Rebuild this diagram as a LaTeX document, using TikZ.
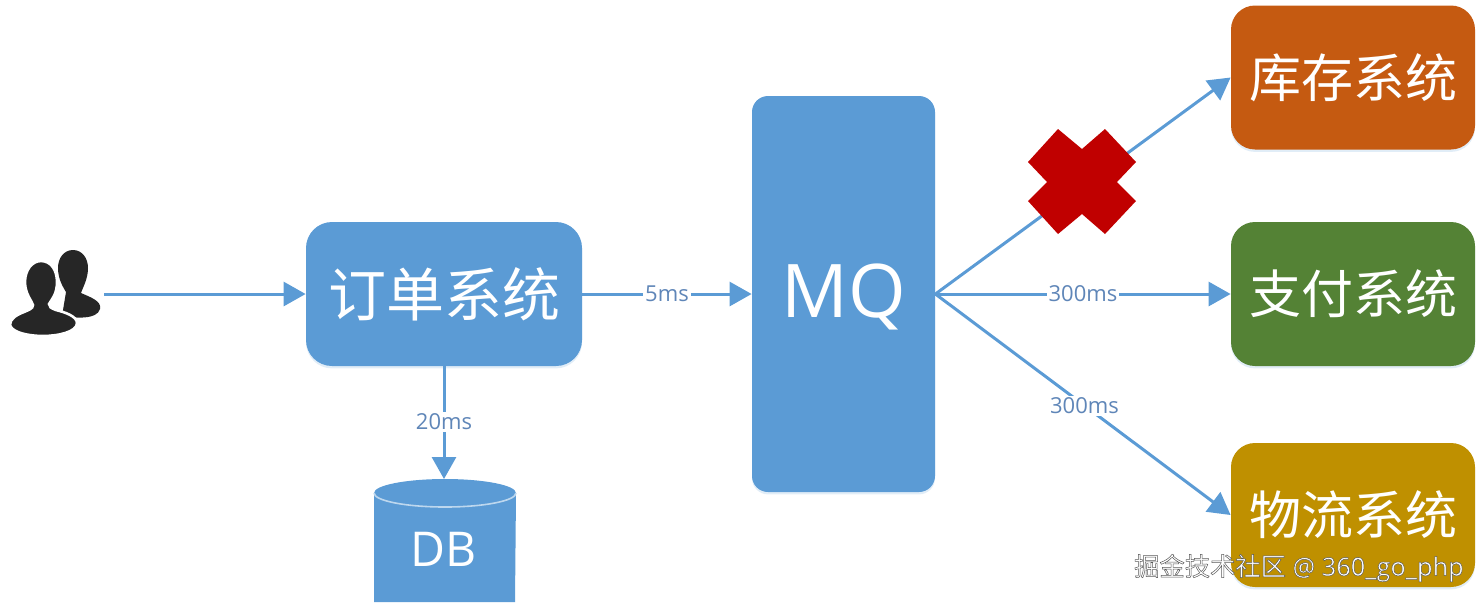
\documentclass[tikz,border=0pt]{standalone}
\usepackage{fontspec}
\setmainfont{Open Sans}
\newfontfamily\cjk{Noto Sans CJK SC}
\usetikzlibrary{arrows.meta,shadows}
\definecolor{bl}{HTML}{5B9BD5}
\definecolor{orng}{HTML}{C55A11}
\definecolor{grn}{HTML}{548235}
\definecolor{gld}{HTML}{BF9000}
\definecolor{lbl}{HTML}{5F86B8}
\definecolor{icon}{HTML}{262626}
\definecolor{xred}{HTML}{C00000}
\tikzset{
  sysbox/.style={rectangle,rounded corners=12pt,inner sep=0pt,text=white,
    minimum width=122pt,minimum height=72pt,
    drop shadow={shadow xshift=0pt,shadow yshift=-1.2pt,opacity=0.18,fill=bl},
    font=\cjk\fontsize{26}{30}\selectfont},
  conn/.style={draw=bl,line width=1.5pt,-{Triangle[length=11pt,width=12pt]}},
  timelbl/.style={fill=white,text=lbl,inner sep=1pt,font=\fontsize{11}{13}\selectfont},
  x=0.5pt,y=-0.5pt
}
\begin{document}
\begin{tikzpicture}
\useasboundingbox (0,0) rectangle (1484,602);
% users icon: back figure
\fill[icon] (73,250) .. controls (64,250) and (58,258) .. (58,268)
  .. controls (58,279) and (63,287) .. (66,292) -- (62,316)
  .. controls (75,318) and (97,320) .. (100,309)
  .. controls (102,301) and (90,297) .. (81,293)
  .. controls (83,287) and (88,279) .. (88,268)
  .. controls (88,258) and (82,250) .. (73,250) -- cycle;
% users icon: front figure
\fill[icon,draw=white,line width=1.3pt] (41,261) .. controls (32,261) and (25,270) .. (25,282)
  .. controls (25,294) and (32,301) .. (33,305)
  .. controls (33,309) and (28,310) .. (24,312)
  .. controls (16,315) and (10,319) .. (10,325)
  .. controls (12,333) and (30,336) .. (43,336)
  .. controls (58,336) and (77,332) .. (77,323)
  .. controls (77,316) and (64,312) .. (56,310)
  .. controls (51,308) and (49,307) .. (49,304)
  .. controls (52,299) and (57,294) .. (57,282)
  .. controls (57,270) and (51,261) .. (41,261) -- cycle;
\coordinate (usr) at (104,294);
% boxes
\node[sysbox,fill=bl,minimum width=138pt,rounded corners=13pt,font=\cjk\fontsize{29}{33}\selectfont] (order) at (444,294) {订单系统};
\node[sysbox,fill=bl,minimum width=91.5pt,minimum height=198pt,rounded corners=8pt,font=\fontsize{37}{42}\selectfont] (mq) at (843.5,294) {\raisebox{0pt}[\dimexpr\height+3pt\relax]{MQ}};
\node[sysbox,fill=orng] (stock) at (1353,77.5) {库存系统};
\node[sysbox,fill=grn] (pay) at (1353,294) {支付系统};
\node[sysbox,fill=gld] (logi) at (1353,515) {物流系统};
% database
\fill[bl] (374,493) arc[start angle=180,end angle=360,x radius=71,y radius=14] -- (515,602) -- (374,602) -- cycle;
\draw[white!60!bl,line width=0.8pt] (374,493) arc[start angle=180,end angle=0,x radius=71,y radius=14];
\node[text=white,font=\fontsize{24}{28}\selectfont,inner sep=0pt] (db) at (444,549) {DB};
\coordinate (dbtop) at (444,479);
% connectors
\draw[conn] (usr) -- (order.west);
\draw[conn] (order.east) -- node[timelbl]{5ms} (mq.west);
\draw[conn] (order.south) -- node[timelbl,pos=0.49]{20ms} (dbtop);
\draw[conn] (mq.east) -- (stock.west);
\draw[conn] (mq.east) -- node[timelbl,pos=0.5]{300ms} (pay.west);
\draw[conn] (mq.east) -- node[timelbl,pos=0.505]{300ms} (logi.west);
% red cross
\fill[xred] (1058,129) -- (1082,149) -- (1105,129) -- (1136,162) -- (1117,182) -- (1136,201)
  -- (1105,234) -- (1082,214) -- (1058,234) -- (1028,201) -- (1047,182) -- (1028,162) -- cycle;
% watermark
\node[anchor=east,inner sep=0pt,text=white,font=\fontsize{12.65}{15}\selectfont] (mark) at (1464,568)
  {\special{pdf:literal direct 0.35 G 1 g 2 Tr 0.25 w}{\cjk 掘金技术社区} @ 360\_go\_php\special{pdf:literal direct 0 Tr}};
\end{tikzpicture}
\end{document}
